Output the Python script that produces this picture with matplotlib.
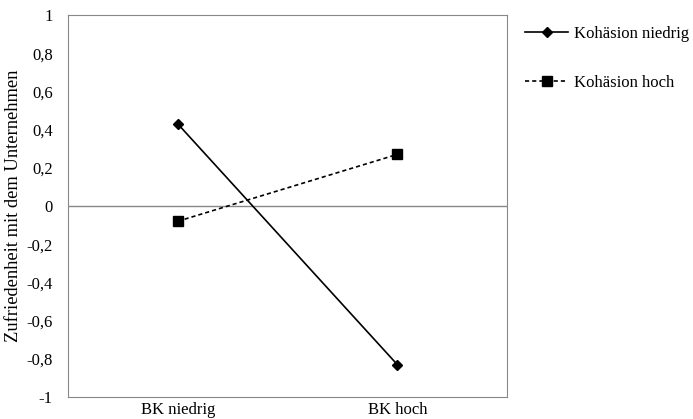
import matplotlib
matplotlib.use('Agg')
import matplotlib.pyplot as plt
from matplotlib.ticker import FuncFormatter

categories = ['BK niedrig', 'BK hoch']
kohaesion_niedrig = [0.43, -0.83]
kohaesion_hoch = [-0.08, 0.27]

plt.rcParams['font.family'] = ['Liberation Serif', 'DejaVu Serif']
plt.rcParams['font.size'] = 12

fig = plt.figure(figsize=(6.93, 4.19), dpi=100)
ax = fig.add_axes([68/693, 1-397/419, 439/693, 382/419])

x = list(range(len(categories)))
ax.axhline(0, color='#888888', lw=1, zorder=1)
ax.plot(x, kohaesion_niedrig, color='black', lw=1.2, marker='D', ms=5, label='Kohäsion niedrig', zorder=3)
ax.plot(x, kohaesion_hoch, color='black', lw=1.2, ls=(0, (2.5, 1.8)), marker='s', ms=7, label='Kohäsion hoch', zorder=3)

ax.set_xlim(-0.5, 1.5)
ax.set_ylim(-1, 1)
ax.set_xticks(x)
ax.set_xticklabels(categories)
ax.set_yticks([i/5 for i in range(-5, 6)])
ax.yaxis.set_major_formatter(FuncFormatter(lambda v, p: ('%g' % round(v, 1)).replace('.', ',')))
ax.tick_params(axis='y', length=0, pad=11)
ax.tick_params(axis='x', length=0, pad=3.5)
for s in ax.spines.values():
    s.set_color('#888888')
ax.set_ylabel('Zufriedenheit mit dem Unternehmen', fontsize=13.3)
ax.yaxis.set_label_coords(-0.105, 0.5)

fig.legend(loc='upper left', bbox_to_anchor=(525/693, 1-26/419), frameon=False,
           borderpad=0, borderaxespad=0, handlelength=2.6, labelspacing=2.0,
           handletextpad=0.35)

fig.savefig('out.png', dpi=100)
